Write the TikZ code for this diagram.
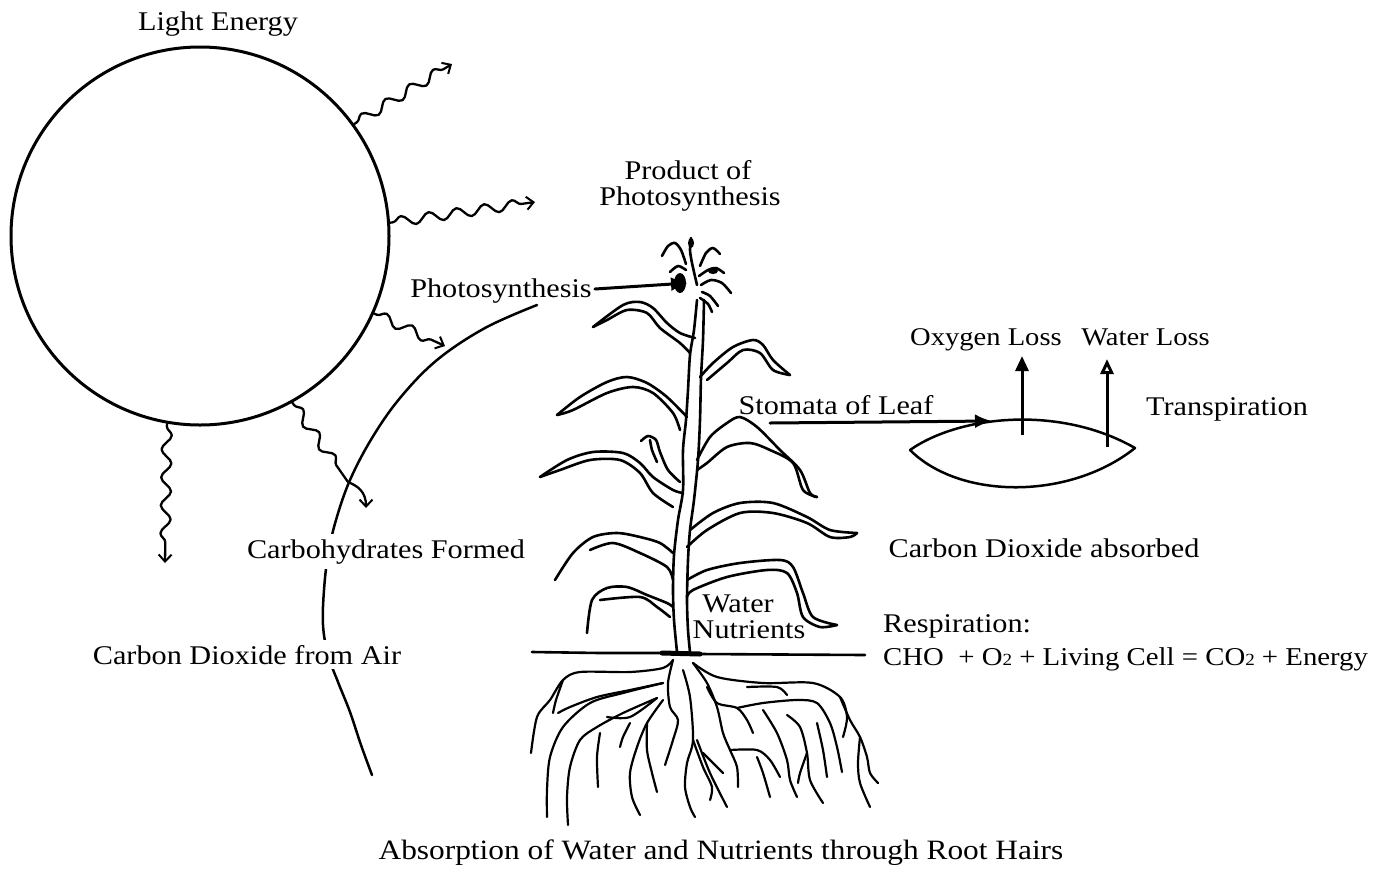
\documentclass[tikz,border=0pt]{standalone}
\usepackage{fontspec}
\setmainfont{Liberation Serif}[FakeStretch=1.12]
\usetikzlibrary{arrows.meta,decorations.pathmorphing}

\newcommand{\smalltwo}{{\fontsize{17}{20}\selectfont 2}}

\begin{document}
\begin{tikzpicture}[x=1pt,y=-1pt,
  lbl/.style={anchor=base, inner sep=0pt, font=\fontsize{27}{30}\selectfont},
  cutlbl/.style={lbl, fill=white, inner xsep=1pt, inner ysep=5pt},
  ink/.style={line width=2.5pt, line cap=round, line join=round},
  plantline/.style={line width=2.6pt, line cap=round, line join=round},
  root/.style={line width=2.2pt, line cap=round, line join=round},
  ray/.style={line width=2.3pt, line cap=round, line join=round,
    -{Straight Barb[length=7pt,width=13pt,line width=2pt]}},
  wave/.style={decoration={snake, amplitude=5pt, segment length=28pt,
    pre length=3pt, post length=8pt}},
  fattip/.style={line width=3pt, line cap=round, -{Latex[length=17pt,width=14pt]}},
  uptip/.style={line width=3pt, -{Triangle[length=15pt,width=13pt]}},
  upopen/.style={line width=3pt, -{Triangle[open,fill=white,length=15pt,width=13pt,line width=3pt]}},
]
\useasboundingbox (0,0) rectangle (1388,868);

% ---------- the sun and its rays ----------
\node[draw, circle, line width=3pt, minimum size=378pt, inner sep=0pt] (sun) at (200,236) {};

\coordinate (r1) at (452,64);
\coordinate (r2) at (535,202);
\coordinate (r3) at (445,346);
\coordinate (r4a) at (348,482);
\coordinate (r4) at (366,508);
\coordinate (r5) at (165,563);

\draw[ray, decorate, wave] (sun.36) -- (r1);
\draw[ray, decorate, wave] (sun.4) -- (r2);
\draw[ray, decorate, wave] (sun.-24) -- (r3);
\draw[ray] decorate[wave]{(sun.-61) -- (r4a)} .. controls (358,486) and (366,492) .. (r4);
\draw[ray, decorate, wave] (sun.-100) -- (r5);

% ---------- the long sweeping arc ----------
\draw[ink] plot[smooth, tension=0.6] coordinates
  {(537,305) (485,328) (437,360) (400,398) (372,438) (350,480) (336,520)
   (328,555) (324,590) (323,625) (328,655) (338,682) (350,712) (361,745) (372,775)};

% ---------- corn plant: stem ----------
\draw[plantline] plot[smooth, tension=0.5] coordinates
  {(697,300) (694,330) (690,355) (688,390) (686,420) (683,450) (683,490)
   (678,520) (674,555) (673,590) (674,620) (677,652)};
\draw[plantline] plot[smooth, tension=0.5] coordinates
  {(704,300) (703,340) (701,378) (700,420) (698,460) (694,500) (690,530)
   (688,560) (687,600) (688,630) (690,652)};

% ---------- tassel ----------
\draw[plantline] plot[smooth] coordinates {(691,238) (690,250) (692,263) (697,285)};
\fill (691,243) ellipse (3pt and 5pt);
\draw[plantline] plot[smooth] coordinates {(662,256) (668,246) (675,243) (681,250) (686,264)};
\draw[plantline] plot[smooth] coordinates {(700,266) (706,253) (713,248) (720,254)};
\draw[plantline] plot[smooth] coordinates {(699,276) (708,270) (716,268) (724,273)};
\fill (713,271) ellipse (5pt and 3pt);
\draw[plantline] plot[smooth] coordinates {(701,285) (711,280) (722,283) (731,293)};
\draw[plantline] plot[smooth] coordinates {(702,292) (710,296) (718,306)};
\draw[plantline] plot[smooth] coordinates {(700,298) (708,304) (712,312)};
\draw[plantline] plot[smooth] coordinates {(686,270) (678,266) (670,272)};
\fill (680,283) ellipse (6pt and 10pt);

% ---------- leaves ----------
% A: upper left
\draw[plantline] plot[smooth, tension=0.5] coordinates
  {(695,338) (680,333) (667,323) (653,308) (640,302) (623,305) (593,327)};
\draw[plantline] plot[smooth, tension=0.5] coordinates
  {(593,327) (607,320) (627,310) (647,313) (660,328) (680,343) (690,353)};
% B: upper right, curled tip
\draw[plantline] plot[smooth, tension=0.5] coordinates
  {(700,377) (713,363) (733,347) (753,340) (763,345) (773,360) (790,375)};
\draw[plantline] plot[smooth, tension=0.5] coordinates
  {(790,375) (773,370) (760,353) (743,350) (727,363) (707,380)};
% C: middle left
\draw[plantline] plot[smooth, tension=0.5] coordinates
  {(557,415) (580,397) (607,382) (627,377) (647,383) (667,397) (687,417)};
\draw[plantline] plot[smooth, tension=0.5] coordinates
  {(557,415) (573,410) (607,393) (633,387) (653,393) (673,413) (680,430)};
% D: middle right, drooping
\draw[plantline] plot[smooth, tension=0.5] coordinates
  {(697,460) (710,437) (727,423) (740,417) (757,427) (780,450) (800,470) (810,493) (817,497)};
\draw[plantline] plot[smooth, tension=0.5] coordinates
  {(817,497) (803,490) (793,463) (770,450) (750,443) (727,447) (707,463) (697,470)};
% E: lower left, with a small curled sheath
\draw[plantline] plot[smooth, tension=0.5] coordinates
  {(540,477) (567,460) (593,452) (623,453) (640,463) (653,477) (673,490) (683,493)};
\draw[plantline] plot[smooth, tension=0.5] coordinates
  {(540,477) (560,470) (590,460) (620,460) (640,473) (653,493) (673,507)};
\draw[plantline] plot[smooth] coordinates {(641,441) (648,436) (656,440) (660,452) (668,470) (680,482)};
\draw[plantline] plot[smooth] coordinates {(650,440) (652,450) (657,462)};
% F: long right leaf
\draw[plantline] plot[smooth, tension=0.5] coordinates
  {(690,530) (713,513) (740,503) (773,503) (807,517) (830,530) (857,533)};
\draw[plantline] plot[smooth, tension=0.5] coordinates
  {(857,533) (850,537) (830,537) (807,523) (773,513) (740,513) (707,530) (687,547)};
% G: lower left
\draw[plantline] plot[smooth, tension=0.5] coordinates
  {(555,580) (573,553) (593,537) (617,533) (640,537) (660,543) (673,553)};
\draw[plantline] plot[smooth, tension=0.5] coordinates
  {(590,550) (613,543) (640,553) (667,567) (673,580)};
% H: lower right, hooked
\draw[plantline] plot[smooth, tension=0.5] coordinates
  {(687,580) (707,570) (740,563) (780,560) (793,567) (803,593) (813,617) (837,625)};
\draw[plantline] plot[smooth, tension=0.5] coordinates
  {(837,625) (820,627) (803,617) (797,593) (787,573) (767,570) (727,577) (693,590) (687,597)};
% I: small bottom left
\draw[plantline] plot[smooth, tension=0.5] coordinates
  {(673,607) (667,603) (647,595) (627,587) (607,588) (592,600) (587,633)};
\draw[plantline] plot[smooth, tension=0.5] coordinates
  {(600,600) (640,597) (657,607) (670,617)};

% ---------- soil surface ----------
\draw[line width=2.6pt, line cap=round] (532,652) -- (600,653) -- (660,653) -- (700,654) -- (865,655);
\draw[line width=5pt, line cap=round] (662,653) -- (700,654);

% ---------- roots ----------
\begin{scope}[root]
\draw plot[smooth] coordinates {(673,660) (663,668) (630,672) (580,672) (563,680) (550,700) (537,717) (531,753)};
\draw plot[smooth] coordinates {(563,680) (556,700) (553,713)};
\draw plot[smooth] coordinates {(663,683) (630,690) (597,697) (570,707) (558,713)};
\draw plot[smooth] coordinates {(663,683) (623,693) (590,703) (563,727) (550,757) (547,790) (547,817)};
\draw plot[smooth] coordinates {(657,698) (623,713) (597,727) (580,740) (570,767) (567,797) (568,825)};
\draw plot[smooth] coordinates {(657,698) (630,717) (607,717)};
\draw plot[smooth] coordinates {(600,733) (597,757) (598,787)};
\draw plot[smooth] coordinates {(630,723) (623,737) (620,747)};
\draw plot[smooth] coordinates {(663,700) (647,723) (637,747) (630,773) (632,797) (640,815)};
\draw plot[smooth] coordinates {(647,723) (647,750) (652,773) (657,792)};
\draw plot[smooth] coordinates {(673,660) (668,683) (670,707) (678,720) (673,740) (665,765)};
\draw plot[smooth] coordinates {(683,670) (690,697) (693,740) (687,763) (685,787) (690,807) (695,817)};
\draw plot[smooth] coordinates {(693,740) (703,767) (712,787) (710,800)};
\draw plot[smooth] coordinates {(703,753) (717,767) (723,773)};
\draw plot[smooth] coordinates {(697,740) (710,773) (727,807)};
\draw plot[smooth] coordinates {(693,663) (707,683) (717,707) (723,733) (730,750) (737,767) (738,787)};
\draw plot[smooth] coordinates {(730,750) (757,750) (770,760) (780,777)};
\draw plot[smooth] coordinates {(757,757) (763,773) (770,797)};
\draw plot[smooth] coordinates {(707,687) (717,703) (737,708) (747,720) (753,733)};
\draw plot[smooth] coordinates {(737,708) (763,703) (797,700) (817,703) (830,723) (837,747) (842,772)};
\draw plot[smooth] coordinates {(763,710) (777,733) (787,760) (790,780) (797,797)};
\draw plot[smooth] coordinates {(787,715) (800,727) (807,753) (810,780) (823,803)};
\draw plot[smooth] coordinates {(807,753) (800,773) (798,783)};
\draw plot[smooth] coordinates {(817,723) (823,750) (827,777)};
\draw plot[smooth] coordinates {(693,663) (717,677) (763,683) (813,683) (840,697) (847,717) (843,737)};
\draw plot[smooth] coordinates {(747,687) (777,687) (787,695)};
\draw plot[smooth] coordinates {(840,697) (850,720) (860,737) (867,757) (870,773) (878,783)};
\draw plot[smooth] coordinates {(860,737) (858,763) (860,783) (870,807)};
\end{scope}

% ---------- leaf cross-section with stomata ----------
\coordinate (lfL) at (910,450);
\coordinate (lfR) at (1135,448);
\draw[ink] (lfL) .. controls (960,415) and (1060,405) .. (lfR)
            .. controls (1070,500) and (960,500) .. (lfL);

\coordinate (stoma) at (992,421);
\coordinate (s0) at (770,423);
\draw[fattip] (s0) -- (stoma);

\coordinate (o0) at (1022,435);
\coordinate (o1) at (1022,356);
\draw[uptip] (o0) -- (o1);
\coordinate (w0) at (1107,447);
\coordinate (w1) at (1107,359);
\draw[upopen] (w0) -- (w1);

% ---------- labels ----------
\node[lbl] (light) at (218,30) {Light Energy};
\node[lbl] (prod1) at (688,179) {Product of};
\node[lbl] (prod2) at (690,205) {Photosynthesis};
\node[lbl] (ps) at (501,297) {Photosynthesis};
\node[lbl, anchor=base west, font=\fontsize{25.5}{30}\selectfont] (oxy) at (910,345) {Oxygen Loss};
\node[lbl, anchor=base east, font=\fontsize{25.5}{30}\selectfont] (wat) at (1210,345) {Water Loss};
\node[lbl] (stom) at (836,414) {Stomata of Leaf};
\node[lbl] (trans) at (1227,415) {Transpiration};
\node[cutlbl] (carbo) at (386,558) {Carbohydrates Formed};
\node[lbl] (co2abs) at (1044,557) {Carbon Dioxide absorbed};
\node[lbl] (water) at (738,612) {Water};
\node[lbl] (nutr) at (749,638) {Nutrients};
\node[lbl, anchor=base west] (resp) at (883,632) {Respiration:};
\node[lbl, anchor=base west, font=\fontsize{25.7}{30}\selectfont] (eqn) at (883,665)
  {CHO\ \ + O\smalltwo\ + Living Cell = CO\smalltwo\ + Energy};
\node[cutlbl] (co2air) at (247,664) {Carbon Dioxide from Air};
\node[lbl, font=\fontsize{28}{30}\selectfont] (absorb) at (721,859) {Absorption of Water and Nutrients through Root Hairs};

% photosynthesis pointer into the tassel
\coordinate (tassel) at (688,283);
\draw[fattip] (ps.base east) ++(3,-8) -- (tassel);

\end{tikzpicture}
\end{document}
